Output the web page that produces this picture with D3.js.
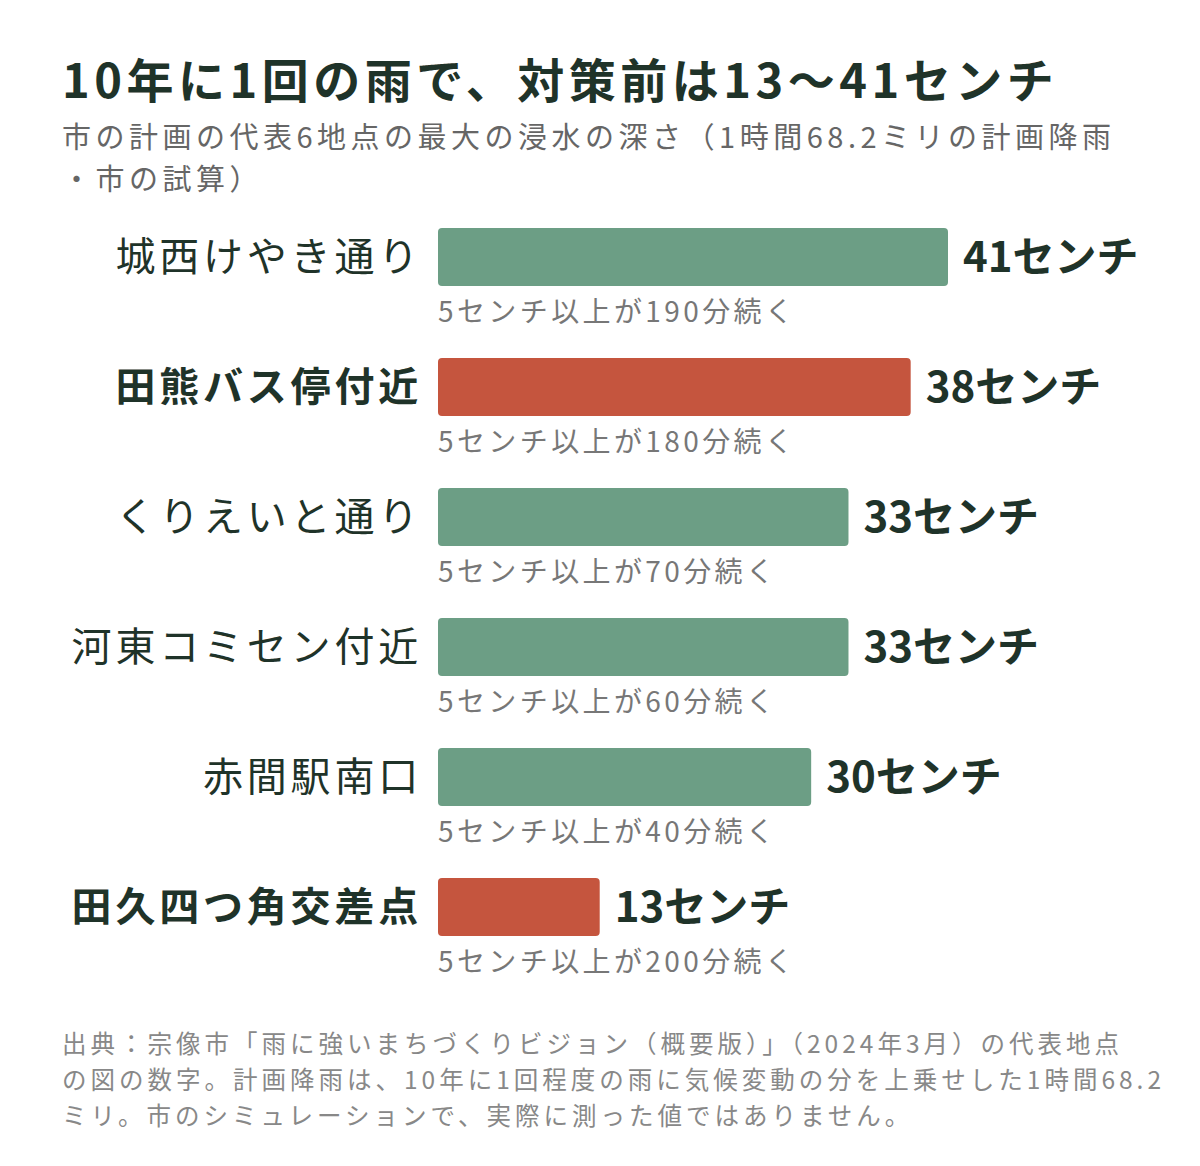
<!DOCTYPE html>
<html><head><meta charset="utf-8">
<script src="https://cdn.jsdelivr.net/npm/d3@7"></script>
<style>body{margin:0;background:#fff;font-family:"Noto Sans CJK JP","Noto Sans",sans-serif;}</style>
</head><body><div id="chart"></div>
<script>
const places = ['城西けやき通り','田熊バス停付近','くりえいと通り','河東コミセン付近','赤間駅南口','田久四つ角交差点']
const depths = [41, 38, 33, 33, 30, 13]
const durations = [190, 180, 70, 60, 40, 200]
const highlight = [false, true, false, false, false, true]

const width = 1200, height = 1166
const dark = '#1f3329', gray = '#777'
const svg = d3.select('#chart').append('svg').attr('width', width).attr('height', height)

svg.append('text').attr('x', 62).attr('y', 98).attr('font-size', 47).attr('font-weight', 700)
    .attr('letter-spacing', 4.5).attr('fill', dark).text('10年に1回の雨で、対策前は13～41センチ')
const sub = ['市の計画の代表6地点の最大の浸水の深さ（1時間68.2ミリの計画降雨', '・市の試算）']
sub.forEach((s, i) => svg.append('text').attr('x', 62).attr('y', 148 + i * 42)
    .attr('font-size', 29).attr('letter-spacing', 4.5).attr('fill', '#666').text(s))

const x = d3.scaleLinear().domain([0, 41]).range([438, 948])
const y = d3.scaleBand().domain(places).range([228, 228 + 130 * 6]).paddingInner(0).paddingOuter(0)
const barH = 58

const g = svg.append('g').selectAll('g').data(places).join('g')
g.append('rect').attr('x', x(0)).attr('y', d => y(d))
    .attr('width', (d, i) => x(depths[i]) - x(0)).attr('height', barH).attr('rx', 4)
    .attr('fill', (d, i) => highlight[i] ? '#c5553e' : '#6c9e85')
g.append('text').attr('x', 422).attr('y', d => y(d) + barH / 2 + 14).attr('text-anchor', 'end')
    .attr('font-size', 40).attr('fill', dark)
    .attr('font-weight', (d, i) => highlight[i] ? 700 : 400).attr('letter-spacing', 3.8).text(d => d)
g.append('text').attr('x', (d, i) => x(depths[i]) + 15).attr('y', d => y(d) + barH / 2 + 15)
    .attr('font-size', 42).attr('font-weight', 700).attr('fill', dark)
    .text((d, i) => depths[i] + 'センチ')
g.append('text').attr('x', 438).attr('y', d => y(d) + barH + 36)
    .attr('font-size', 28).attr('letter-spacing', 3.4).attr('fill', gray)
    .text((d, i) => '5センチ以上が' + durations[i] + '分続く')

const notes = ['出典：宗像市「雨に強いまちづくりビジョン（概要版）」（2024年3月）の代表地点',
    'の図の数字。計画降雨は、10年に1回程度の雨に気候変動の分を上乗せした1時間68.2',
    'ミリ。市のシミュレーションで、実際に測った値ではありません。']
notes.forEach((s, i) => svg.append('text').attr('x', 62).attr('y', 1053 + i * 36)
    .attr('font-size', 24.5).attr('letter-spacing', 4).attr('fill', '#888').text(s))
</script></body></html>
